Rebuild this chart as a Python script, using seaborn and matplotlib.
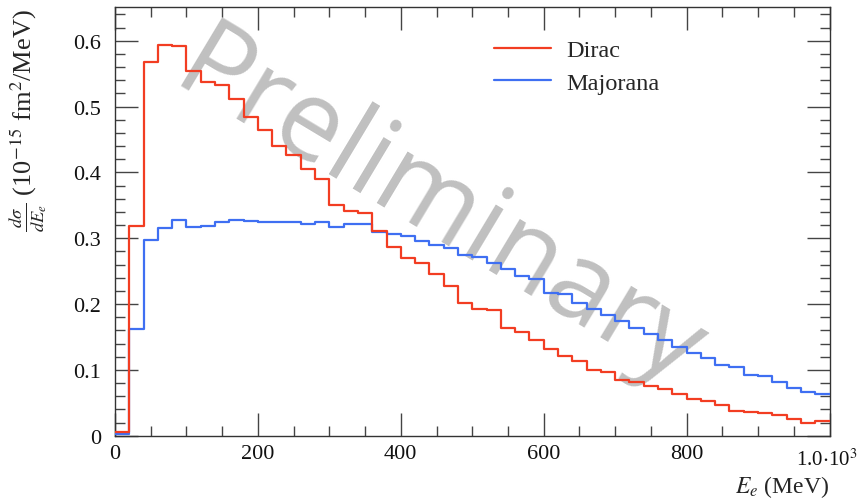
import numpy as np
import pandas as pd
import matplotlib
matplotlib.use("Agg")
import matplotlib.pyplot as plt
import seaborn as sns
from matplotlib.ticker import FixedLocator, MultipleLocator
from matplotlib.lines import Line2D

# ---------------- data (20 MeV bins from 0 to 1000 MeV) ----------------
bin_width = 20
n_bins = 50
dirac = [0.005, 0.318, 0.567, 0.593, 0.592, 0.554, 0.537, 0.532, 0.512, 0.484,
         0.465, 0.440, 0.427, 0.405, 0.390, 0.351, 0.342, 0.339, 0.311, 0.286,
         0.270, 0.262, 0.245, 0.228, 0.201, 0.193, 0.191, 0.164, 0.157, 0.145,
         0.131, 0.121, 0.113, 0.100, 0.097, 0.085, 0.081, 0.076, 0.071, 0.064,
         0.056, 0.052, 0.046, 0.037, 0.036, 0.035, 0.032, 0.026, 0.020, 0.022]
majorana = [0.003, 0.162, 0.298, 0.315, 0.328, 0.317, 0.319, 0.325, 0.327, 0.326,
            0.324, 0.325, 0.324, 0.321, 0.325, 0.317, 0.322, 0.321, 0.309, 0.307,
            0.304, 0.296, 0.289, 0.285, 0.275, 0.271, 0.263, 0.253, 0.242, 0.238,
            0.217, 0.216, 0.201, 0.192, 0.184, 0.174, 0.164, 0.155, 0.145, 0.134,
            0.126, 0.118, 0.107, 0.104, 0.092, 0.090, 0.081, 0.072, 0.067, 0.064]
series_names = ["Dirac", "Majorana"]
x_ticks = [0, 200, 400, 600, 800, 1000]
x_ticklabels = ["0", "200", "400", "600", "800", ""]
y_ticks = [0, 0.1, 0.2, 0.3, 0.4, 0.5, 0.6]
y_ticklabels = ["0", "0.1", "0.2", "0.3", "0.4", "0.5", "0.6"]

edges = [i * bin_width for i in range(n_bins + 1)]
centers = [e + bin_width / 2 for e in edges[:-1]]
df = pd.DataFrame({
    "E": centers + centers,
    "w": dirac + majorana,
    "model": [series_names[0]] * n_bins + [series_names[1]] * n_bins,
})

RED = "#f23d22"
BLUE = "#3f6ff2"
palette = {series_names[0]: RED, series_names[1]: BLUE}

sns.set_style("ticks")
plt.rcParams["font.family"] = ["Liberation Serif", "DejaVu Serif"]
plt.rcParams["mathtext.fontset"] = "stix"

fig = plt.figure(figsize=(8.6, 5.02), dpi=100)
ax = fig.add_axes([115 / 860, 1 - 436.7 / 502, 714.5 / 860, 428.8 / 502])

# watermark
ax.text(452, 0.34, "Preliminary", transform=ax.transData, rotation=-31,
        rotation_mode="anchor", ha="center", va="center",
        fontsize=80, family="Open Sans", color="#c0c0c0", zorder=0)

sns.histplot(data=df, x="E", weights="w", hue="model", bins=edges,
             element="step", fill=False, palette=palette, linewidth=1.6,
             legend=False, ax=ax, zorder=3)

ax.set_xlim(0, 1000)
ax.set_ylim(0, 0.6514)

ax.xaxis.set_major_locator(FixedLocator(x_ticks))
ax.set_xticklabels(x_ticklabels)
ax.xaxis.set_minor_locator(MultipleLocator(50))
ax.yaxis.set_major_locator(FixedLocator(y_ticks))
ax.set_yticklabels(y_ticklabels)
ax.yaxis.set_minor_locator(MultipleLocator(0.02))

ax.tick_params(which="both", direction="in", top=True, right=True,
               color="#444444", width=1.0, labelsize=16, labelcolor="#111111")
ax.tick_params(which="major", length=16.5)
ax.tick_params(which="minor", length=7)
ax.tick_params(axis="x", which="major", pad=6)
ax.tick_params(axis="y", which="major", pad=10)
for s in ax.spines.values():
    s.set_color("#333333")
    s.set_linewidth(1.0)

ax.text(0.953, -0.055, r"1.0$\cdot$10$^{3}$", transform=ax.transAxes,
        ha="left", va="center", fontsize=15, color="#111111", clip_on=False)

ax.set_xlabel(r"$E_e$ (MeV)", fontsize=17, loc="right")
ax.xaxis.set_label_coords(1.0, -0.087)
ax.set_ylabel(r"$\frac{d\sigma}{dE_e}$ (10$^{-15}$ fm$^2$/MeV)", fontsize=19, loc="top")
ax.yaxis.set_label_coords(-0.092, 0.996)

handles = [Line2D([], [], color=palette[n], lw=1.6) for n in series_names]
ax.legend(handles, series_names, loc="upper left",
          bbox_to_anchor=(494 / 860, 1 - 40 / 502), bbox_transform=fig.transFigure,
          frameon=False, fontsize=17.5, handlelength=2.35, handletextpad=0.62,
          labelspacing=0.45, borderpad=0, borderaxespad=0)

fig.savefig("out.png", dpi=100)
